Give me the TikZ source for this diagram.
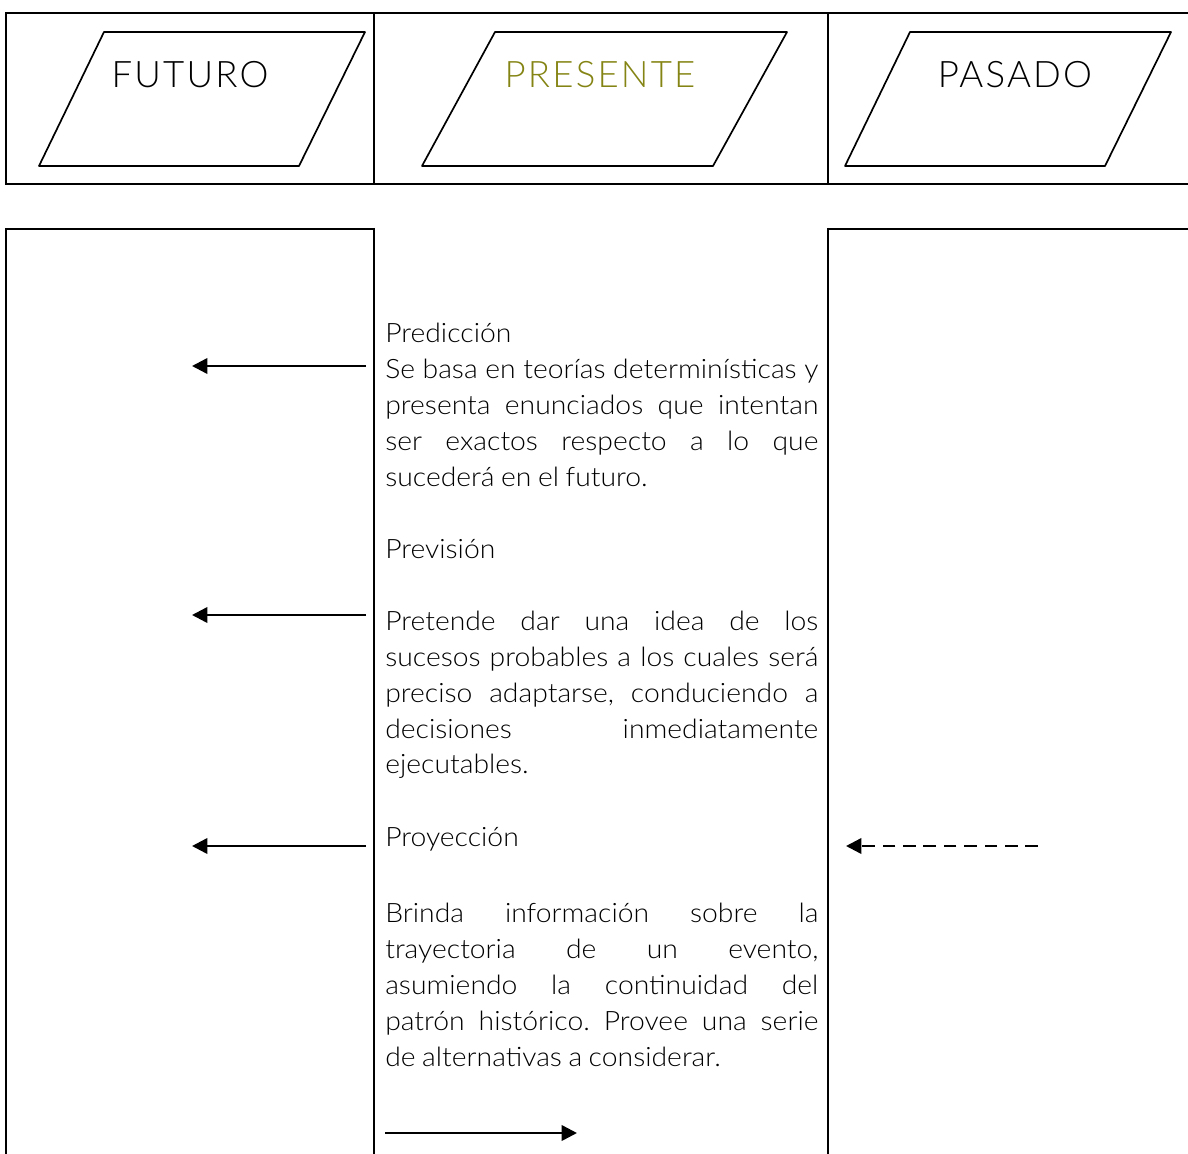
\documentclass[tikz,border=0pt]{standalone}
\usepackage{fontspec}
\setmainfont{Lato}
\newfontfamily\titulofont{Lato Light}[LetterSpace=6]
\newfontfamily\cuerpofont{Lato Light}[FakeStretch=1.06, WordSpace=0.85]
\usetikzlibrary{arrows.meta}
\definecolor{olivo}{RGB}{132,132,20}
\tikzset{
	borde/.style={line width=2pt},
	fina/.style={line width=0.8pt},
	rombo/.style={line width=1.2pt, line join=round},
	titulo/.style={font=\titulofont\fontsize{26}{30}\selectfont, inner sep=0, anchor=base},
	cuerpo/.style={font=\cuerpofont\fontsize{19}{25.6}\selectfont,
		execute at begin node={\frenchspacing\hyphenpenalty=10000\relax\tolerance=10000\relax},
		inner sep=0, anchor=base west, text width=308pt, align=justify},
	flecha/.style={line width=1.8pt, -{Triangle[length=11pt,width=11pt]}},
}

\begin{document}
\begin{tikzpicture}[x=0.025cm, y=-0.025cm]
			%%%%% START %%%%%
			\useasboundingbox (0, 0) rectangle (1188, 1154);
			
			% tabla de arriba
			\draw[borde] (1190, 13) -- (6, 13) -- (6, 184) -- (1190, 184);
			\draw[borde] (374, 13) -- (374, 184);
			\draw[borde] (828, 13) -- (828, 184);
			
			\draw[rombo] (39, 166) -- (104, 32) -- (365, 32) -- (299, 166) -- cycle;
			\draw[rombo] (422, 166) -- (495, 32) -- (787, 32) -- (713, 166) -- cycle;
			\draw[rombo] (845, 166) -- (910, 32) -- (1171, 32) -- (1105, 166) -- cycle;
			
			\node[titulo] (futuro) at (190, 88) {FUTURO};
			\node[titulo, color=olivo] (presente) at (600, 88) {PRESENTE};
			\node[titulo] (pasado) at (1015, 88) {PASADO};
			
			% tabla de abajo
			\draw[borde] (373, 229) -- (6, 229) -- (6, 1160);
			\draw[borde] (828, 229) -- (1190, 229);
			\draw[fina] (374, 228) -- (374, 1160);
			\draw[fina] (828, 228) -- (828, 1160);
			
			\node[cuerpo] (prediccion) at (385, 343) {Predicción\\Se basa en teorías determinísticas y\linebreak
				presenta enunciados que intentan\linebreak ser exactos respecto a lo que\linebreak
				sucederá en el futuro.};
			\node[cuerpo] (prevision) at (385, 558) {Previsión};
			\node[cuerpo] (pretende) at (385, 630) {Pretende dar una idea de los\linebreak
				sucesos probables a los cuales será\linebreak preciso adaptarse, conduciendo a\linebreak
				decisiones inmediatamente\linebreak ejecutables.};
			\node[cuerpo] (proyeccion) at (385, 846) {Proyección};
			\node[cuerpo] (brinda) at (385, 922) {Brinda información sobre la\linebreak
				trayectoria de un evento,\linebreak asumiendo la continuidad del\linebreak
				patrón histórico. Provee una serie\linebreak de alternativas a considerar.};
			
			% flechas
			\coordinate (pred-a) at (366, 366);
			\coordinate (pred-b) at (192, 366);
			\coordinate (prev-a) at (366, 615);
			\coordinate (prev-b) at (192, 615);
			\coordinate (proy-a) at (366, 846);
			\coordinate (proy-b) at (192, 846);
			\coordinate (pas-a) at (1038, 846);
			\coordinate (pas-b) at (846, 846);
			\coordinate (fin-a) at (385, 1133);
			\coordinate (fin-b) at (577, 1133);
			
			\draw[flecha] (pred-a) -- (pred-b);
			\draw[flecha] (prev-a) -- (prev-b);
			\draw[flecha] (proy-a) -- (proy-b);
			\draw[flecha, dash pattern=on 9pt off 5.5pt] (pas-a) -- (pas-b);
			\draw[flecha] (fin-a) -- (fin-b);
			
			%%%%% END %%%%%
\end{tikzpicture}
\end{document}
